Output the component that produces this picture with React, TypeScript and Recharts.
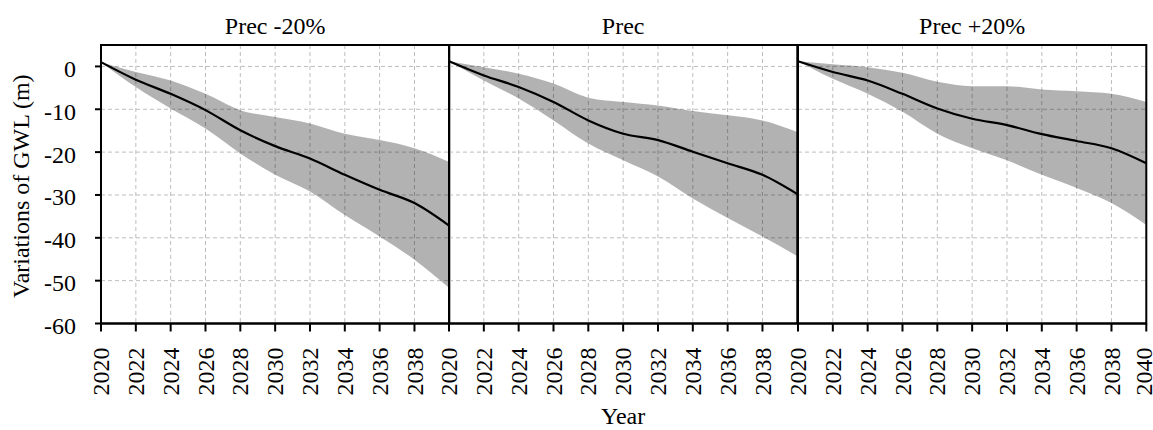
import { ComposedChart, Area, Line, XAxis, YAxis, CartesianGrid, ReferenceArea } from "recharts";

const years = [2020, 2022, 2024, 2026, 2028, 2030, 2032, 2034, 2036, 2038, 2040];
const yTicks = [-60, -50, -40, -30, -20, -10, 0];
const titles = ["Prec -20%", "Prec", "Prec +20%"];

// mean GWL change and the min/max envelope for each precipitation scenario
const meanDry = [1.0, -3.1, -6.4, -10.2, -14.9, -18.6, -21.5, -25.3, -28.8, -31.9, -37.2];
const upperDry = [1.0, -1.3, -3.3, -6.4, -10.2, -11.8, -13.3, -15.7, -17.2, -19.1, -22.3];
const lowerDry = [1.0, -4.8, -9.8, -14.5, -20.3, -25.3, -29.2, -34.7, -39.7, -45.1, -51.7];

const meanBase = [1.2, -2.1, -4.8, -8.3, -12.6, -15.7, -17.2, -19.9, -22.6, -25.3, -29.8];
const upperBase = [1.2, -0.2, -1.7, -4.0, -7.3, -8.3, -9.1, -10.4, -11.4, -12.6, -15.3];
const lowerBase = [1.2, -3.3, -7.5, -12.6, -18.0, -21.9, -25.7, -30.8, -35.4, -39.7, -44.3];

const meanWet = [1.2, -1.3, -3.3, -6.4, -9.8, -12.2, -13.7, -15.8, -17.4, -19.1, -22.6];
const upperWet = [1.2, 0.5, -0.2, -1.5, -3.6, -4.6, -4.6, -5.4, -5.8, -6.4, -8.3];
const lowerWet = [1.2, -2.9, -6.4, -10.6, -15.7, -19.1, -21.9, -25.3, -28.4, -31.9, -37.0];

const build = (mean: number[], upper: number[], lower: number[]) =>
  years.map((year, i) => ({ year, mean: mean[i], band: [lower[i], upper[i]] }));

const panels = [
  build(meanDry, upperDry, lowerDry),
  build(meanBase, upperBase, lowerBase),
  build(meanWet, upperWet, lowerWet),
];

const FONT = '"Liberation Serif", "Times New Roman", serif';
const PLOT_TOP = 45;
const PLOT_H = 278.5;
const PLOT_W = 348.3;
const PANEL_LEFT = [101, 449.3, 797.7];
const AXIS_H = 430 - PLOT_TOP - PLOT_H;

function YearTick({ x, y, payload }: any) {
  // nudge the last label in so it stays inside the page edge
  const nx = payload.value === 2040 ? x - 2 : x;
  return (
    <g transform={`translate(${nx},${y})`}>
      <text transform="rotate(-90)" textAnchor="end" dy="0.34em" fontSize={24} fill="#000" fontFamily={FONT}>
        {payload.value}
      </text>
    </g>
  );
}

function Panel({ idx }: { idx: number }) {
  const first = idx === 0;
  const last = idx === 2;
  const padL = first ? PANEL_LEFT[0] : 20;
  const padR = last ? 1153 - PANEL_LEFT[2] - PLOT_W : 20;
  const xTicks = last ? years : years.slice(0, -1);
  return (
    <div style={{ position: "absolute", left: PANEL_LEFT[idx] - padL, top: 0 }}>
      <ComposedChart
        width={padL + PLOT_W + padR}
        height={430}
        data={panels[idx]}
        margin={{ top: PLOT_TOP, right: padR, bottom: 0, left: first ? 0 : padL }}
      >
        <CartesianGrid stroke="#bdbdbd" strokeDasharray="4 3" horizontalValues={yTicks} verticalValues={xTicks} />
        <XAxis
          dataKey="year"
          type="number"
          domain={[2020, 2040]}
          ticks={xTicks}
          interval={0}
          height={AXIS_H}
          tick={<YearTick />}
          tickSize={8}
          tickMargin={16}
          axisLine={{ stroke: "#000", strokeWidth: 2 }}
          tickLine={{ stroke: "#000", strokeWidth: 2 }}
          label={idx === 1 ? { value: "Year", position: "insideBottom", offset: 6, fontSize: 24, fill: "#000", fontFamily: FONT } : undefined}
        />
        <YAxis
          type="number"
          domain={[-60, 5]}
          ticks={yTicks}
          interval={0}
          hide={!first}
          width={first ? PANEL_LEFT[0] : 0}
          tick={{ fontSize: 24, fill: "#000", fontFamily: FONT, dy: 2 }}
          tickSize={6}
          tickMargin={19}
          axisLine={{ stroke: "#000", strokeWidth: 2 }}
          tickLine={{ stroke: "#000", strokeWidth: 2 }}
          label={
            first
              ? {
                  content: ({ viewBox }: any) => {
                    const cx = viewBox.x + 29;
                    const cy = viewBox.y + viewBox.height / 2 + 2;
                    return (
                      <text x={cx} y={cy} transform={`rotate(-90 ${cx} ${cy})`} textAnchor="middle" fontSize={24} fill="#000" fontFamily={FONT}>
                        Variations of GWL (m)
                      </text>
                    );
                  },
                }
              : undefined
          }
        />
        {/* translucent band so the dashed grid still shows through it */}
        <Area type="monotone" dataKey="band" stroke="none" fill="#000" fillOpacity={0.3} isAnimationActive={false} />
        <Line type="monotone" dataKey="mean" stroke="#000" strokeWidth={2.2} dot={false} isAnimationActive={false} />
        <ReferenceArea
          x1={2020}
          x2={2040}
          y1={-60}
          y2={5}
          fill="none"
          stroke="#000"
          strokeWidth={2}
          label={{ value: titles[idx], position: "top", offset: 11, fontSize: 24, fill: "#000", fontFamily: FONT }}
        />
      </ComposedChart>
    </div>
  );
}

export default function App() {
  return (
    <div style={{ position: "absolute", left: 0, top: 0, width: 1153, height: 430, background: "#fff", fontFamily: FONT, overflow: "hidden" }}>
      {[0, 1, 2].map((i) => (
        <Panel key={i} idx={i} />
      ))}
    </div>
  );
}
